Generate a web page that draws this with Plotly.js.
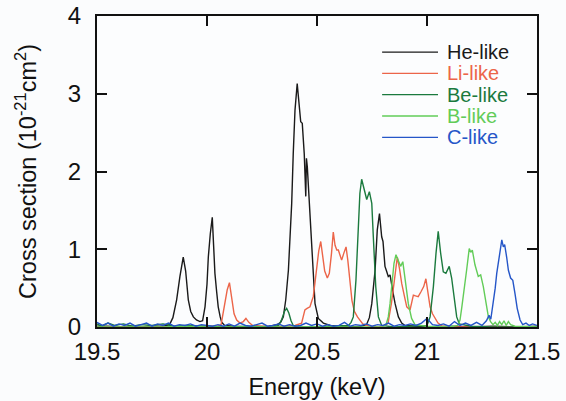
<!DOCTYPE html>
<html>
<head>
<meta charset="utf-8">
<script src="https://cdn.plot.ly/plotly-3.0.1.min.js"></script>
<style>html,body{margin:0;padding:0;background:#fbfcfd;}#chart{width:566px;height:401px;}</style>
</head>
<body>
<div id="chart"></div>
<script>
// ---- data ----
const seriesNames = ["He-like", "Li-like", "Be-like", "B-like", "C-like"];
const seriesColors = ["#1a1a1a", "#ec6549", "#1b7a3e", "#62cc58", "#2556c8"];

const heX = [19.50, 19.55, 19.60, 19.65, 19.70, 19.75, 19.80, 19.83, 19.845, 19.862,
             19.877, 19.892, 19.903, 19.915, 19.926, 19.938, 19.952, 19.968, 19.98, 19.991,
             20.0, 20.006, 20.015, 20.024, 20.03, 20.036, 20.044, 20.051, 20.06, 20.067,
             20.08, 20.12, 20.2, 20.28, 20.32, 20.335, 20.347, 20.358, 20.37, 20.378,
             20.385, 20.392, 20.4, 20.41, 20.419, 20.426, 20.433, 20.442, 20.449, 20.452,
             20.456, 20.461, 20.468, 20.476, 20.483, 20.491, 20.506, 20.529, 20.56, 20.6,
             20.65, 20.7, 20.725, 20.738, 20.749, 20.764, 20.774, 20.784, 20.794, 20.8,
             20.805, 20.809, 20.816, 20.824, 20.832, 20.839, 20.847, 20.855, 20.87, 20.885,
             20.9, 20.95, 21.0, 21.1, 21.2, 21.3, 21.4, 21.5];
const heY = [0.01, 0.01, 0.0, 0.01, 0.0, 0.01, 0.01, 0.03, 0.12, 0.35,
             0.65, 0.90, 0.72, 0.35, 0.20, 0.13, 0.09, 0.07, 0.08, 0.26,
             0.55, 0.90, 1.20, 1.41, 1.05, 0.69, 0.45, 0.26, 0.13, 0.06,
             0.02, 0.01, 0.0, 0.01, 0.03, 0.06, 0.13, 0.35, 0.73, 1.15,
             1.59, 2.23, 2.79, 3.13, 2.88, 2.64, 2.62, 2.23, 1.68, 2.17,
             2.06, 1.80, 1.59, 1.16, 0.65, 0.30, 0.11, 0.05, 0.02, 0.01,
             0.0, 0.01, 0.03, 0.12, 0.30, 0.73, 1.25, 1.46, 1.16, 1.10,
             0.95, 0.78, 0.72, 0.65, 0.67, 0.52, 0.42, 0.30, 0.13, 0.05,
             0.02, 0.01, 0.0, 0.01, 0.0, 0.01, 0.0, 0.01];

const liX = [19.5, 19.7, 19.9, 20.0, 20.05, 20.064, 20.08, 20.092, 20.102, 20.112,
             20.123, 20.135, 20.15, 20.165, 20.177, 20.19, 20.208, 20.25, 20.3, 20.35,
             20.4, 20.43, 20.445, 20.455, 20.468, 20.476, 20.483, 20.49, 20.498, 20.508,
             20.517, 20.525, 20.535, 20.547, 20.556, 20.566, 20.574, 20.582, 20.59, 20.597,
             20.605, 20.612, 20.622, 20.632, 20.64, 20.65, 20.659, 20.67, 20.684, 20.708,
             20.74, 20.78, 20.81, 20.823, 20.838, 20.85, 20.865, 20.875, 20.885, 20.897,
             20.908, 20.923, 20.938, 20.948, 20.96, 20.972, 20.985, 20.995, 21.003, 21.014,
             21.025, 21.036, 21.05, 21.06, 21.069, 21.1, 21.2, 21.3, 21.4, 21.5];
const liY = [0.0, 0.0, 0.0, 0.01, 0.01, 0.03, 0.30, 0.48, 0.57, 0.40,
             0.17, 0.09, 0.05, 0.07, 0.11, 0.06, 0.02, 0.01, 0.0, 0.01,
             0.02, 0.05, 0.22, 0.24, 0.26, 0.33, 0.39, 0.55, 0.73, 0.98,
             1.10, 0.95, 0.72, 0.63, 0.69, 0.95, 1.22, 1.05, 0.99, 0.99,
             0.92, 0.86, 0.95, 1.03, 0.86, 0.60, 0.34, 0.20, 0.13, 0.04,
             0.01, 0.0, 0.02, 0.05, 0.30, 0.56, 0.90, 0.75, 0.56, 0.40,
             0.26, 0.22, 0.41, 0.40, 0.39, 0.45, 0.52, 0.62, 0.45, 0.26,
             0.17, 0.11, 0.05, 0.03, 0.01, 0.0, 0.0, 0.0, 0.0, 0.0];

const beX = [19.5, 19.52, 19.55, 19.58, 19.62, 19.66, 19.7, 19.75, 19.8, 19.85,
             19.9, 20.0, 20.1, 20.2, 20.3, 20.326, 20.34, 20.352, 20.362, 20.372,
             20.382, 20.392, 20.42, 20.5, 20.6, 20.643, 20.655, 20.665, 20.677, 20.688,
             20.695, 20.703, 20.712, 20.726, 20.738, 20.749, 20.756, 20.767, 20.779, 20.794,
             20.85, 20.95, 21.0, 21.014, 21.022, 21.029, 21.041, 21.051, 21.062, 21.074,
             21.086, 21.101, 21.112, 21.123, 21.135, 21.147, 21.2, 21.3, 21.4, 21.5];
const beY = [0.04, 0.01, 0.05, 0.02, 0.04, 0.01, 0.03, 0.02, 0.04, 0.01,
             0.02, 0.01, 0.0, 0.01, 0.0, 0.02, 0.10, 0.20, 0.24, 0.18,
             0.08, 0.02, 0.0, 0.0, 0.01, 0.02, 0.06, 0.13, 0.60, 1.25,
             1.72, 1.90, 1.80, 1.64, 1.74, 1.59, 1.16, 0.52, 0.13, 0.02,
             0.0, 0.01, 0.02, 0.13, 0.30, 0.52, 0.95, 1.23, 0.95, 0.71,
             0.69, 0.78, 0.63, 0.39, 0.13, 0.04, 0.01, 0.0, 0.0, 0.0];

const bX = [19.5, 19.6, 19.7, 19.8, 19.9, 20.0, 20.2, 20.4, 20.6, 20.8,
            20.815, 20.824, 20.832, 20.839, 20.85, 20.859, 20.865, 20.87, 20.88, 20.89,
            20.9, 20.915, 20.93, 20.945, 21.0, 21.1, 21.14, 21.15, 21.158, 21.165,
            21.18, 21.192, 21.199, 21.206, 21.218, 21.233, 21.244, 21.256, 21.268, 21.279,
            21.289, 21.3, 21.31, 21.32, 21.33, 21.34, 21.35, 21.36, 21.37, 21.38,
            21.4, 21.5];
const bY = [0.0, 0.0, 0.0, 0.0, 0.01, 0.0, 0.0, 0.0, 0.0, 0.0,
            0.04, 0.13, 0.30, 0.48, 0.82, 0.93, 0.88, 0.84, 0.78, 0.84,
            0.60, 0.30, 0.11, 0.03, 0.01, 0.0, 0.02, 0.09, 0.25, 0.43,
            0.73, 1.01, 0.96, 0.99, 0.80, 0.65, 0.67, 0.52, 0.30, 0.13,
            0.07, 0.03, 0.06, 0.02, 0.07, 0.03, 0.08, 0.02, 0.07, 0.03,
            0.01, 0.0];

const cX = [19.500, 19.525, 19.550, 19.575, 19.600, 19.625, 19.650, 19.675, 19.700, 19.725,
            19.750, 19.775, 19.800, 19.825, 19.850, 19.875, 19.900, 19.925, 19.950, 19.975,
            20.000, 20.025, 20.050, 20.075, 20.100, 20.125, 20.150, 20.175, 20.200, 20.225,
            20.250, 20.275, 20.300, 20.325, 20.350, 20.375, 20.400, 20.425, 20.450, 20.475,
            20.500, 20.525, 20.550, 20.575, 20.600, 20.625, 20.650, 20.675, 20.700, 20.725,
            20.750, 20.775, 20.800, 20.825, 20.850, 20.875, 20.900, 20.925, 20.950, 20.975,
            21.000, 21.025, 21.050, 21.075, 21.100, 21.125, 21.150, 21.175, 21.200, 21.225,
            21.250, 21.270, 21.282, 21.290, 21.301, 21.310, 21.317, 21.329, 21.340, 21.347,
            21.353, 21.362, 21.370, 21.380, 21.390, 21.400, 21.410, 21.423, 21.435, 21.450,
            21.465, 21.480, 21.500];
const cY = [0.06, 0.02, 0.05, 0.01, 0.04, 0.02, 0.05, 0.01, 0.03, 0.05,
            0.01, 0.04, 0.02, 0.05, 0.01, 0.03, 0.02, 0.04, 0.01, 0.03,
            0.02, 0.01, 0.03, 0.01, 0.04, 0.01, 0.05, 0.02, 0.01, 0.03,
            0.05, 0.01, 0.02, 0.04, 0.01, 0.03, 0.01, 0.02, 0.05, 0.02,
            0.04, 0.01, 0.03, 0.01, 0.02, 0.06, 0.01, 0.03, 0.02, 0.04,
            0.01, 0.03, 0.02, 0.05, 0.01, 0.03, 0.02, 0.04, 0.02, 0.05,
            0.11, 0.03, 0.02, 0.04, 0.01, 0.07, 0.02, 0.05, 0.02, 0.06,
            0.02, 0.08, 0.15, 0.10, 0.30, 0.50, 0.69, 0.95, 1.12, 1.03,
            1.06, 0.90, 0.73, 0.63, 0.60, 0.43, 0.24, 0.09, 0.03, 0.05,
            0.02, 0.04, 0.02];

const xTicks = [19.5, 20, 20.5, 21, 21.5];
const xTickText = ["19.5", "20", "20.5", "21", "21.5"];
const yTicks = [0, 1, 2, 3, 4];

// ---- build traces ----
const xs = [heX, liX, beX, bX, cX];
const ys = [heY, liY, beY, bY, cY];
const traces = seriesNames.map((n, i) => ({
  type: "scatter",
  mode: "lines",
  x: xs[i],
  y: ys[i],
  name: n,
  line: {color: seriesColors[i], width: 1.4},
  hoverinfo: "skip",
  showlegend: false
}));

// ---- compact legend (line sample + coloured label per series) ----
const legLineX0 = 0.648, legLineX1 = 0.775, legTextX = 0.79;
const legTop = 0.884, legStep = 0.0685;
const shapes = [];
const annotations = [];
seriesNames.forEach((n, i) => {
  const yy = legTop - i * legStep;
  shapes.push({type: "line", xref: "paper", yref: "paper",
    x0: legLineX0, x1: legLineX1, y0: yy, y1: yy,
    line: {color: seriesColors[i], width: 1.3}});
  annotations.push({xref: "paper", yref: "paper", x: legTextX, y: yy,
    xanchor: "left", yanchor: "middle", showarrow: false,
    text: n, font: {size: 20, color: seriesColors[i]}});
});

const FONT = "Liberation Sans, Arial, Helvetica, sans-serif";
const layout = {
  width: 566,
  height: 401,
  margin: {l: 97, r: 29, t: 16, b: 74},
  paper_bgcolor: "#fbfcfd",
  plot_bgcolor: "#fcfdfe",
  font: {family: FONT, size: 24, color: "#111"},
  showlegend: false,
  shapes: shapes,
  annotations: annotations,
  xaxis: {
    range: [19.5, 21.5],
    tickvals: xTicks,
    ticktext: xTickText,
    ticks: "inside", ticklen: 10, tickwidth: 2, tickcolor: "#111",
    showline: true, linewidth: 2, linecolor: "#111", mirror: "ticks",
    showgrid: false, zeroline: false,
    tickfont: {size: 24},
    ticklabelstandoff: 2,
    title: {text: "Energy (keV)", font: {size: 23.5}, standoff: 15}
  },
  yaxis: {
    range: [0, 4],
    tickvals: yTicks,
    ticks: "inside", ticklen: 10, tickwidth: 2, tickcolor: "#111",
    showline: true, linewidth: 2, linecolor: "#111", mirror: "ticks",
    showgrid: false, zeroline: false,
    tickfont: {size: 24},
    ticklabelstandoff: 9,
    title: {text: "Cross section (10<sup>-21</sup>cm<sup>2</sup>)", font: {size: 23.5}, standoff: 25}
  }
};

Plotly.newPlot("chart", traces, layout, {displayModeBar: false, staticPlot: true});
</script>
</body>
</html>
